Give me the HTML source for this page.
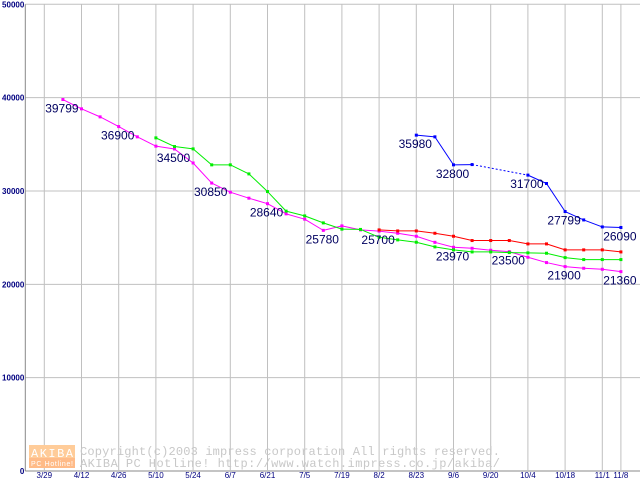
<!DOCTYPE html>
<html><head><meta charset="utf-8"><style>
html,body{margin:0;padding:0;background:#fff;}
svg{display:block;font-family:"Liberation Sans",sans-serif;}
</style></head><body>
<svg id="chart" width="640" height="480" xmlns="http://www.w3.org/2000/svg">
<g id="grid"></g>
<g id="wm">
<rect x="29" y="445" width="46" height="13" fill="#ffcc99"/>
<rect x="29" y="458" width="46" height="10" fill="#ffbb88"/>
<text x="31" y="457" font-size="12" fill="#fff" font-family="Liberation Mono,monospace" textLength="42">AKIBA</text>
<text x="31" y="466" font-size="7" fill="#fff" textLength="42">PC Hotline!</text>
<text x="80" y="455" font-size="12" fill="#c8c8c8" font-family="Liberation Mono,monospace" textLength="420">Copyright(c)2003 impress corporation All rights reserved.</text>
<text x="80" y="467" font-size="12" fill="#c8c8c8" font-family="Liberation Mono,monospace" textLength="420">AKIBA PC Hotline!  http://www.watch.impress.co.jp/akiba/</text>
</g>
<g id="series"></g>
<g id="labels"></g>
</svg>
<script>
const dates=["3/29","4/12","4/26","5/10","5/24","6/7","6/21","7/5","7/19","8/2","8/23","9/6","9/20","10/4","10/18","11/1","11/8"];
const yTicks=[0,10000,20000,30000,40000,50000];
const magenta=[39799,38800,37940,36900,35800,34800,34500,33000,30850,29870,29230,28640,27550,26980,25780,26260,25830,25700,25470,25150,24500,23970,23860,23650,23500,22900,22330,21900,21720,21610,21360];
const green=[null,null,null,null,null,35690,34760,34510,32800,32800,31830,29940,27840,27330,26580,25910,25880,25050,24760,24510,24010,23690,23470,23470,23400,23370,23330,22860,22650,22650,22650];
const red=[null,null,null,null,null,null,null,null,null,null,null,null,null,null,null,null,null,25830,25720,25720,25470,25150,24690,24690,24690,24330,24330,23690,23690,23690,23470];
const blue=[null,null,null,null,null,null,null,null,null,null,null,null,null,null,null,null,null,null,null,35980,35800,32800,32830,null,null,31700,30800,27799,26900,26150,26090];
const magentaLabelIdx=[0,3,6,8,11,14,17,21,24,27,30];
const blueLabelIdx=[19,21,25,27,30];
const NS="http://www.w3.org/2000/svg";
const X0=25.3,Y0=471,YT=4.3,step=18.6;
function xs(i){return 44.3+step*(i+1);}
function ys(v){return Y0-(v/50000)*(Y0-YT);}
function mk(tag,at,parent){const e=document.createElementNS(NS,tag);for(const k in at)e.setAttribute(k,at[k]);parent.appendChild(e);return e;}
const grid=document.getElementById('grid');
yTicks.forEach(v=>{
  const l=mk('line',{x1:X0,x2:640,y1:ys(v),y2:ys(v),stroke:v===0?'#888':'#c0c0c0','stroke-width':1},grid);
  
  
  const t=mk('text',{x:X0-1,y:ys(v)+3,'text-anchor':'end','font-size':8,'font-weight':'bold',fill:'#000080'},grid);
  t.textContent=String(v);
  
  
});
dates.forEach((d,k)=>{
  const x=k===dates.length-1?xs(magenta.length-1):44.3+step*2*k;
  const l=mk('line',{x1:x,x2:x,y1:YT,y2:Y0,stroke:'#c0c0c0','stroke-width':1},grid);
  
  
  const t=mk('text',{x:x,y:478,'text-anchor':'middle','font-size':8,fill:'#000080'},grid);
  t.textContent=d;
  
  
});
const ax=mk('line',{x1:X0,x2:X0,y1:YT,y2:Y0,stroke:'#888'},grid);


const sg=document.getElementById('series');
function drawSeries(arr,color,name){
  const g=mk('g',{},sg);
  
  
  let prev=-1;
  arr.forEach((v,i)=>{
    if(v==null)return;
    if(prev>=0){
      const gap=i-prev>1;
      const l=mk('line',{x1:xs(prev),y1:ys(arr[prev]),x2:xs(i),y2:ys(v),stroke:color,'stroke-width':1,'stroke-dasharray':gap?'2,2':'none'},g);
      
      
    }
    prev=i;
  });
  arr.forEach((v,i)=>{
    if(v==null)return;
    const r=mk('rect',{x:xs(i)-1.5,y:ys(v)-1.5,width:3,height:3,fill:color},g);
    
    
  });
}
drawSeries(magenta,'#ff00ff','magenta-series');
drawSeries(green,'#00ee00','green-series');
drawSeries(red,'#ff0000','red-series');
drawSeries(blue,'#0000ff','blue-series');
const lg=document.getElementById('labels');
function labels(arr,idx){
  idx.forEach(i=>{
    const t=mk('text',{x:xs(i)-1,y:ys(arr[i])+13,'text-anchor':'middle','font-size':12,fill:'#000060'},lg);
    t.textContent=String(arr[i]);
    
    
  });
}
labels(magenta,magentaLabelIdx);
labels(blue,blueLabelIdx);
</script>
</body></html>
